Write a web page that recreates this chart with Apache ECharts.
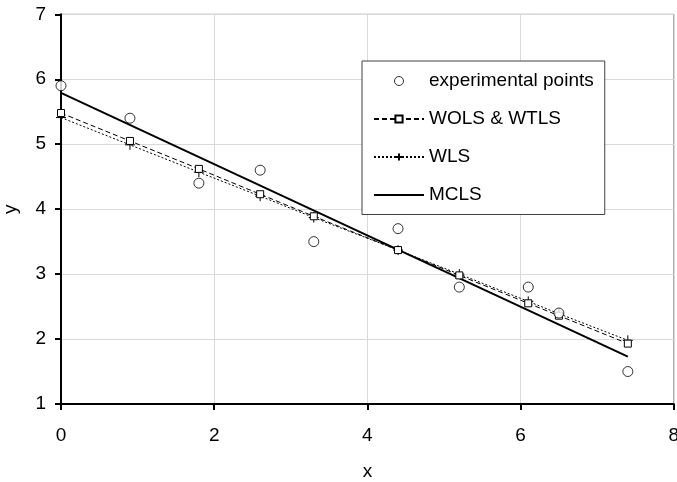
<!DOCTYPE html>
<html>
<head>
<meta charset="utf-8">
<script src="https://cdn.jsdelivr.net/npm/echarts@6/dist/echarts.min.js"></script>
<style>
    html, body { margin: 0; padding: 0; background: #fff; }
    #my_chart { width: 677px; height: 482px; }
</style>
</head>
<body>
<div id="my_chart"></div>
<script>
// x of the measured points
var xData = [0, 0.9, 1.8, 2.6, 3.3, 4.4, 5.2, 6.1, 6.5, 7.4];
// experimental points
var yExp = [5.9, 5.4, 4.4, 4.6, 3.5, 3.7, 2.8, 2.8, 2.4, 1.5];
// WOLS & WTLS fitted values
var yWols = [5.48, 5.05, 4.62, 4.23, 3.89, 3.37, 2.98, 2.55, 2.36, 1.93];
// WLS fitted values
var yWls = [5.41, 4.99, 4.57, 4.2, 3.87, 3.37, 3.0, 2.58, 2.39, 1.98];
// MCLS line end points
var xMcls = [0, 7.4];
var yMcls = [5.79, 1.73];

var xTicks = [0, 2, 4, 6, 8];
var yTicks = [1, 2, 3, 4, 5, 6, 7];

function pairs(xs, ys) {
    var out = [];
    for (var i = 0; i < xs.length; i++) {
        out.push([xs[i], ys[i]]);
    }
    return out;
}

var font = 'Arial, "Liberation Sans", sans-serif';
var plusIcon = 'path://M5,0L5,10M0,5L10,5';

var myChart = echarts.init(document.getElementById('my_chart'));
var option = {
    animation: false,
    backgroundColor: '#fff',
    textStyle: { fontFamily: font },
    grid: {
        left: 61,
        right: 3.2,
        top: 14.3,
        bottom: 78,
        outerBoundsMode: 'none',
        containLabel: false,
        show: true,
        borderColor: '#8c8c8c',
        borderWidth: 1
    },
    legend: {
        orient: 'vertical',
        left: 362,
        top: 61,
        padding: [10.5, 11, 10, 11],
        itemWidth: 50,
        itemHeight: 9,
        itemGap: 19,
        borderColor: '#404040',
        borderWidth: 1,
        backgroundColor: '#fff',
        textStyle: {
            fontFamily: font,
            fontSize: 19,
            lineHeight: 19,
            color: '#000'
        },
        data: [
            { name: 'experimental points', itemStyle: { borderWidth: 1 } },
            'WOLS & WTLS',
            'WLS',
            { name: 'MCLS', itemStyle: { opacity: 0 } }
        ]
    },
    xAxis: {
        type: 'value',
        min: 0,
        max: 8,
        interval: 2,
        name: 'x',
        nameLocation: 'middle',
        nameGap: 58,
        nameTextStyle: { fontFamily: font, fontSize: 19, color: '#000' },
        axisLine: { onZero: false, lineStyle: { color: '#000', width: 2 } },
        axisTick: { show: true, inside: false, length: 6, lineStyle: { color: '#000', width: 2 } },
        axisLabel: {
            fontFamily: font,
            fontSize: 19,
            color: '#000',
            margin: 22,
            showMaxLabel: true
        },
        splitLine: { show: true, lineStyle: { color: '#d9d9d9', width: 1 } }
    },
    yAxis: {
        type: 'value',
        min: 1,
        max: 7,
        interval: 1,
        name: 'y',
        nameLocation: 'middle',
        nameGap: 41,
        nameTextStyle: { fontFamily: font, fontSize: 19, color: '#000' },
        axisLine: { show: true, onZero: false, lineStyle: { color: '#000', width: 2 } },
        axisTick: { show: true, inside: false, length: 6, lineStyle: { color: '#000', width: 2 } },
        axisLabel: {
            fontFamily: font,
            fontSize: 19,
            color: '#000',
            margin: 15
        },
        splitLine: { show: true, lineStyle: { color: '#d9d9d9', width: 1 } }
    },
    series: [
        {
            name: 'MCLS',
            type: 'line',
            showSymbol: false,
            symbol: 'none',
            lineStyle: { color: '#000', width: 2 },
            itemStyle: { color: '#000' },
            data: pairs(xMcls, yMcls),
            z: 3
        },
        {
            name: 'WLS',
            type: 'line',
            symbol: plusIcon,
            symbolSize: 10,
            lineStyle: { color: '#000', width: 1, type: [2, 2] },
            itemStyle: { color: 'none', borderColor: '#000', borderWidth: 1 },
            data: pairs(xData, yWls),
            z: 4
        },
        {
            name: 'WOLS & WTLS',
            type: 'line',
            symbol: 'rect',
            symbolSize: 7,
            lineStyle: { color: '#000', width: 1, type: [5, 3] },
            itemStyle: { color: '#fff', borderColor: '#000', borderWidth: 1 },
            data: pairs(xData, yWols),
            z: 5
        },
        {
            name: 'experimental points',
            type: 'scatter',
            symbol: 'circle',
            symbolSize: 10,
            itemStyle: { color: '#fff', borderColor: '#000', borderWidth: 1 },
            data: pairs(xData, yExp),
            z: 6
        }
    ]
};
myChart.setOption(option);
</script>
</body>
</html>
